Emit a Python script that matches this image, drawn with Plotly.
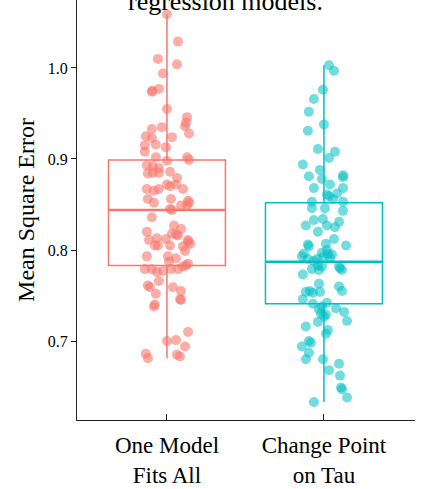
import plotly.graph_objects as go

# Mean square error per run for each modelling approach
categories = ["One Model<br>Fits All", "Change Point<br>on Tau"]

one_model_mse = [
    1.059, 1.029, 1.010, 1.004, 0.994, 0.974, 0.975, 0.977, 0.955, 0.946,
    0.940, 0.936, 0.928, 0.935, 0.933, 0.925, 0.923, 0.924, 0.915, 0.916,
    0.913, 0.908, 0.902, 0.898, 0.902, 0.899, 0.893, 0.890, 0.892, 0.884,
    0.885, 0.885, 0.886, 0.879, 0.872, 0.872, 0.870, 0.867, 0.865, 0.867,
    0.867, 0.856, 0.852, 0.856, 0.854, 0.852, 0.849, 0.849, 0.845, 0.844,
    0.836, 0.827, 0.823, 0.820, 0.818, 0.817, 0.816, 0.811, 0.813, 0.812,
    0.811, 0.805, 0.805, 0.805, 0.804, 0.807, 0.809, 0.799, 0.793, 0.793,
    0.791, 0.785, 0.787, 0.779, 0.779, 0.776, 0.777, 0.779, 0.779, 0.782,
    0.783, 0.766, 0.761, 0.759, 0.759, 0.755, 0.752, 0.745, 0.746, 0.740,
    0.738, 0.710, 0.700, 0.701, 0.694, 0.686, 0.681, 0.685, 0.683,
]
one_model_jitter = [
    0, 11, -9, 10, -4, -15, -14.5, -8, 0, 20,
    19, 18, 22, -5, -15, -21, -15, 5, -22, -11,
    -1, -22, -11, 0, 20, 22, -20, -8, -14, -19,
    -14, -8, 3, 10, 9, 0, 3, -20, -13, -8,
    16, -19, -13, 4, 21, 22, 14, 20, 3, 5,
    -15, 7, 14, -20, 5, 9, 11, -18, -10, -1,
    21, -12, -9, 3, 16, 23, 21, 18, -20, 1,
    9, 21, 2, -22, -15, -10, -4, 4, 11, 16,
    19, -8, -19, -17, 6, 14, -11, 14, 13, -12,
    -13, 21, 0, 9, 18, -21, -19, 10, 13,
]

change_point_mse = [
    1.003, 0.997, 0.976, 0.966, 0.952, 0.938, 0.931, 0.911, 0.908, 0.901,
    0.894, 0.888, 0.881, 0.882, 0.880, 0.878, 0.872, 0.868, 0.868, 0.862,
    0.861, 0.859, 0.856, 0.853, 0.853, 0.846, 0.846, 0.843, 0.834, 0.833,
    0.831, 0.827, 0.827, 0.825, 0.820, 0.812, 0.807, 0.806, 0.804, 0.805,
    0.800, 0.797, 0.796, 0.796, 0.793, 0.795, 0.790, 0.790, 0.788, 0.792,
    0.791, 0.783, 0.782, 0.782, 0.778, 0.780, 0.779, 0.773, 0.778, 0.763,
    0.760, 0.755, 0.754, 0.755, 0.753, 0.754, 0.746, 0.741, 0.738, 0.742,
    0.735, 0.736, 0.732, 0.730, 0.729, 0.727, 0.722, 0.721, 0.716, 0.712,
    0.708, 0.700, 0.698, 0.694, 0.687, 0.680, 0.680, 0.675, 0.668, 0.662,
    0.649, 0.647, 0.638, 0.633,
]
change_point_jitter = [
    5, 10, -1, -10, -15, 0, -16, -6, 11, 5,
    -21, -4, -15, 19, 19, -2, 6, -10, 19, 13,
    3, 5, 9, -12, 19, -12, 1, 19, -1, -10,
    15, -18, 3, 11, -6, 10, 2, -16, -15, 22,
    3, -2, 4, -20, -22, 8, -16, -7, -10, -1,
    6, -6, -2, 15, 18, 16, -12, -21, -5, -5,
    15, 18, -18, -14, -11, -4, -21, -11, -2, 3,
    -5, 12, 20, -3, 2, 0, 23, -6, -18, 4,
    2, -15, -13, -22, -15, -18, -1, 15, 5, 16,
    17, 18, 23, -10,
]

# Box summaries: lower whisker, Q1, median, Q3, upper whisker
one_model_box = [0.681, 0.783, 0.844, 0.899, 1.059]
change_point_box = [0.633, 0.741, 0.787, 0.852, 1.003]

y_ticks = [0.7, 0.8, 0.9, 1.0]

FONT = "Liberation Serif"
JITTER_STEP = 0.0064
BOX_WIDTH = 0.745

groups = [
    (one_model_mse, one_model_jitter, one_model_box, "#F8766D", "rgba(248,118,109,0.6)"),
    (change_point_mse, change_point_jitter, change_point_box, "#00BFC4", "rgba(0,191,196,0.55)"),
]

fig = go.Figure()

for pos, (vals, jit, box, line_col, pt_col) in enumerate(groups):
    lo, q1, med, q3, hi = box
    fig.add_trace(go.Box(
        x=[pos], q1=[q1], median=[med], q3=[q3],
        lowerfence=[lo], upperfence=[hi],
        width=BOX_WIDTH, whiskerwidth=0,
        fillcolor="rgba(0,0,0,0)",
        line=dict(color=line_col, width=1.5),
        boxpoints=False, hoverinfo="skip", showlegend=False,
    ))
    # thicker median bar
    fig.add_trace(go.Scatter(
        x=[pos - BOX_WIDTH / 2, pos + BOX_WIDTH / 2], y=[med, med],
        mode="lines", line=dict(color=line_col, width=2.5),
        hoverinfo="skip", showlegend=False,
    ))
    fig.add_trace(go.Scatter(
        x=[pos + j * JITTER_STEP for j in jit], y=vals,
        mode="markers",
        marker=dict(size=10, color=pt_col, line=dict(width=0)),
        hoverinfo="skip", showlegend=False,
    ))

fig.add_annotation(
    text="regression models.", xref="paper", yref="paper",
    x=0.44, y=0.958, xanchor="center", yanchor="bottom",
    showarrow=False, font=dict(family=FONT, size=26, color="black"),
)

fig.update_layout(
    width=422, height=489,
    margin=dict(l=77, r=7, t=0, b=69, autoexpand=False),
    paper_bgcolor="white", plot_bgcolor="white",
    font=dict(family=FONT, color="black"),
)
fig.update_xaxes(
    range=[-0.573, 1.58], automargin=False,
    tickvals=[0, 1], ticktext=categories,
    ticks="inside", ticklen=6, tickwidth=1.3, tickcolor="#222",
    showline=True, linecolor="#222", linewidth=1.3,
    showgrid=False, zeroline=False,
    ticklabelstandoff=4,
    tickfont=dict(family=FONT, size=23, color="black"),
)
fig.update_yaxes(
    range=[0.6132, 1.0747], automargin=False,
    tickvals=y_ticks, ticktext=[f"{v:.1f}" for v in y_ticks],
    ticks="outside", ticklen=5, tickwidth=1.3, tickcolor="#222",
    showline=True, linecolor="#222", linewidth=1.3,
    showgrid=False, zeroline=False,
    tickfont=dict(family=FONT, size=16, color="black"),
    title=dict(text="Mean Square Error", font=dict(family=FONT, size=24, color="black"), standoff=6),
)

fig.write_html("out.html")
